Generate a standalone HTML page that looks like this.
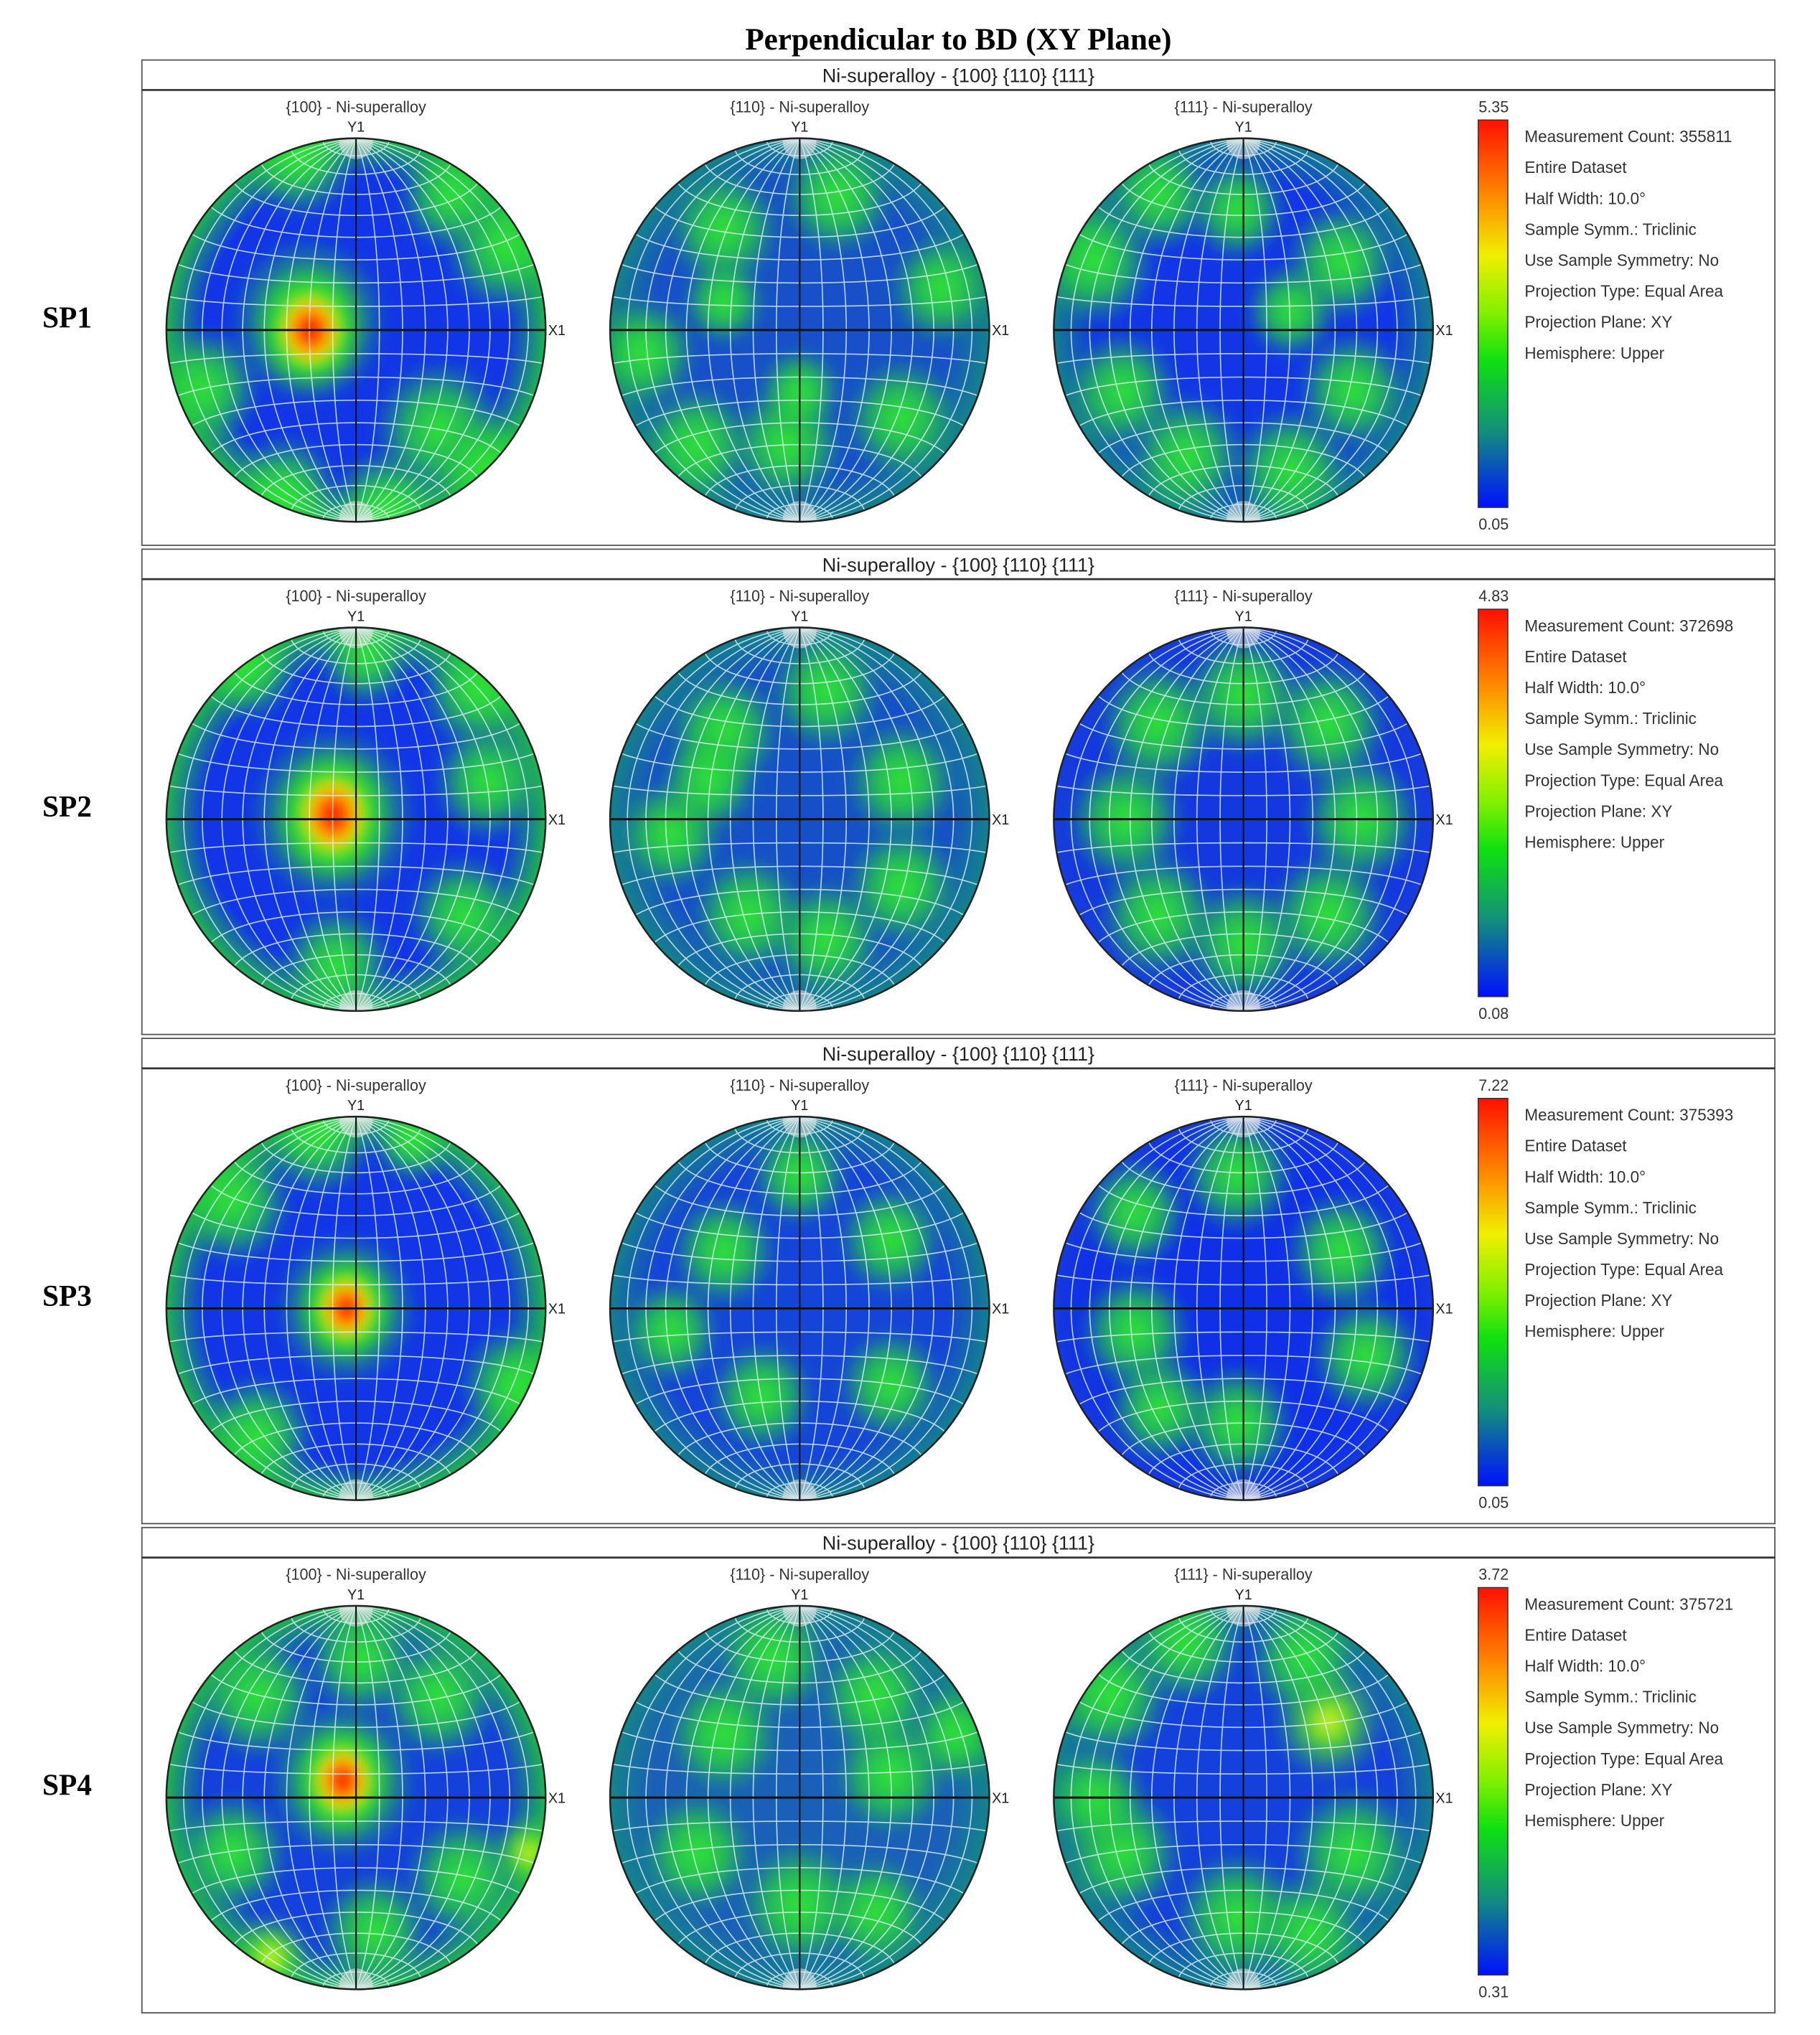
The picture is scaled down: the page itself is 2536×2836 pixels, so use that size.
<!DOCTYPE html>
<html><head><meta charset="utf-8"><style>
html,body{margin:0;padding:0;background:#fff;}
svg{display:block;}
</style></head><body>
<svg id="fig" xmlns="http://www.w3.org/2000/svg" width="2536" height="2836" viewBox="0 0 1411 1560" preserveAspectRatio="none">
<rect x="0" y="0" width="1411" height="1560" fill="#fff"/>
<text x="743" y="38" text-anchor="middle" font-family="Liberation Serif, serif" font-weight="bold" font-size="24">Perpendicular to BD (XY Plane)</text>
<defs id="defs">
<filter id="soft" x="-20%" y="-20%" width="140%" height="140%"><feGaussianBlur stdDeviation="5"/></filter>
<linearGradient id="cbar" x1="0" y1="0" x2="0" y2="1">
<stop offset="0" stop-color="#ff1000"/><stop offset="0.18" stop-color="#ff8000"/><stop offset="0.35" stop-color="#f0f000"/><stop offset="0.5" stop-color="#80f000"/><stop offset="0.62" stop-color="#10e010"/><stop offset="0.8" stop-color="#14907a"/><stop offset="1" stop-color="#0010ff"/>
</linearGradient>
<radialGradient id="gGreen"><stop offset="0" stop-color="#30e830" stop-opacity="1"/><stop offset="0.5" stop-color="#28d838" stop-opacity="0.75"/><stop offset="1" stop-color="#20b050" stop-opacity="0"/></radialGradient>
<radialGradient id="gYel"><stop offset="0" stop-color="#e8f020" stop-opacity="1"/><stop offset="0.35" stop-color="#60e820" stop-opacity="0.9"/><stop offset="1" stop-color="#20c040" stop-opacity="0"/></radialGradient>
<radialGradient id="gHot"><stop offset="0" stop-color="#ff1000"/><stop offset="0.22" stop-color="#ff5000"/><stop offset="0.38" stop-color="#ffd000"/><stop offset="0.55" stop-color="#40e820" stop-opacity="0.95"/><stop offset="1" stop-color="#20c040" stop-opacity="0"/></radialGradient>
<radialGradient id="gRim100"><stop offset="0.8" stop-color="#20c040" stop-opacity="0"/><stop offset="1" stop-color="#20c040" stop-opacity="0.9"/></radialGradient>
<radialGradient id="gRimTeal"><stop offset="0.78" stop-color="#148a80" stop-opacity="0"/><stop offset="1" stop-color="#148a80" stop-opacity="0.85"/></radialGradient>
<radialGradient id="gRimBlue"><stop offset="0.8" stop-color="#1030e0" stop-opacity="0"/><stop offset="1" stop-color="#1a40d8" stop-opacity="0.6"/></radialGradient>
</defs>
<g id="panels"></g>
</svg>
<script>
// Per-panel colour-scale limits
const panelMax = ["5.35","4.83","7.22","3.72"];
const panelMin = ["0.05","0.08","0.05","0.31"];
const panelCounts = ["355811","372698","375393","375721"];
const panelLabels = ["SP1","SP2","SP3","SP4"];
const figNames = ["{100} - Ni-superalloy","{110} - Ni-superalloy","{111} - Ni-superalloy"];
// Intensity blobs: [u, v, radius, kind] with u,v in unit-circle coords; kind: g=green, y=yellowish, h=hot
const blobsSP1_100 = [[-0.25,-0.05,0.42,"g"],[-0.24,0.0,0.3,"h"],[0.44,0.52,0.35,"g"],[0.7,0.73,0.3,"g"],[0.78,-0.43,0.32,"g"],[0.5,-0.7,0.28,"g"],[-0.3,-0.9,0.3,"g"],[-0.8,0.3,0.3,"g"],[-0.38,0.86,0.3,"g"],[0.16,0.93,0.3,"g"]];
const blobsSP1_110 = [[-0.4,-0.53,0.3,"g"],[0.2,-0.7,0.3,"g"],[0.75,-0.22,0.28,"g"],[-0.82,0.12,0.28,"g"],[-0.54,0.6,0.3,"g"],[-0.07,0.6,0.3,"g"],[0.54,0.46,0.3,"g"],[0.0,0.32,0.22,"g"],[-0.4,-0.15,0.22,"g"]];
const blobsSP1_111 = [[-0.78,-0.36,0.32,"g"],[-0.64,0.32,0.3,"g"],[-0.3,0.66,0.32,"g"],[0.25,0.73,0.32,"g"],[0.58,0.32,0.3,"g"],[0.52,-0.36,0.3,"g"],[-0.03,-0.63,0.26,"g"],[-0.44,-0.7,0.28,"g"],[0.25,-0.1,0.24,"g"]];
const blobsSP2_100 = [[-0.12,-0.02,0.45,"g"],[-0.12,-0.02,0.32,"h"],[0.64,-0.67,0.3,"g"],[0.7,-0.2,0.3,"g"],[0.57,0.5,0.3,"g"],[-0.1,0.76,0.3,"g"],[-0.58,-0.8,0.28,"g"],[0.05,-0.85,0.25,"g"]];
const blobsSP2_110 = [[-0.4,-0.46,0.3,"g"],[0.14,-0.67,0.3,"g"],[0.54,-0.2,0.3,"g"],[0.54,0.35,0.3,"g"],[0.14,0.63,0.3,"g"],[-0.27,0.5,0.3,"g"],[-0.68,0.08,0.28,"g"],[-0.48,-0.2,0.26,"g"]];
const blobsSP2_111 = [[0.0,-0.65,0.32,"g"],[0.45,-0.5,0.32,"g"],[0.62,0.0,0.32,"g"],[0.45,0.5,0.32,"g"],[0.0,0.65,0.32,"g"],[-0.45,0.5,0.32,"g"],[-0.62,0.0,0.32,"g"],[-0.45,-0.5,0.32,"g"]];
const blobsSP3_100 = [[-0.05,0.0,0.38,"g"],[-0.05,0.0,0.26,"h"],[0.84,0.4,0.3,"g"],[-0.65,-0.56,0.32,"g"],[-0.52,0.66,0.3,"g"],[-0.2,-0.9,0.3,"g"],[0.3,-0.88,0.22,"g"]];
const blobsSP3_110 = [[-0.4,-0.3,0.28,"g"],[0.48,-0.36,0.28,"g"],[0.48,0.4,0.28,"g"],[-0.2,0.46,0.28,"g"],[0.0,-0.7,0.26,"g"],[-0.68,0.12,0.26,"g"]];
const blobsSP3_111 = [[-0.57,0.12,0.3,"g"],[-0.03,-0.7,0.3,"g"],[0.52,-0.3,0.3,"g"],[0.65,0.25,0.3,"g"],[-0.03,0.6,0.3,"g"],[-0.44,0.52,0.28,"g"],[-0.57,-0.5,0.28,"g"]];
const blobsSP4_100 = [[-0.07,-0.09,0.4,"g"],[-0.07,-0.09,0.27,"h"],[-0.45,0.83,0.22,"y"],[0.91,0.29,0.2,"y"],[-0.52,-0.53,0.32,"g"],[0.44,-0.53,0.32,"g"],[0.57,0.42,0.32,"g"],[-0.65,0.29,0.3,"g"],[0.03,-0.73,0.3,"g"],[0.1,0.7,0.3,"g"]];
const blobsSP4_110 = [[-0.4,-0.33,0.3,"g"],[0.48,-0.12,0.3,"g"],[-0.54,0.29,0.3,"g"],[0.0,0.56,0.32,"g"],[0.4,-0.53,0.3,"g"],[-0.14,-0.73,0.3,"g"],[0.82,-0.33,0.25,"g"],[0.4,0.6,0.28,"g"]];
const blobsSP4_111 = [[-0.7,-0.53,0.32,"g"],[0.45,-0.4,0.3,"y"],[0.58,0.29,0.34,"g"],[-0.03,0.63,0.34,"g"],[-0.64,0.29,0.32,"g"],[-0.3,-0.8,0.3,"g"],[0.32,-0.73,0.3,"g"],[-0.78,0.0,0.28,"g"],[0.35,0.7,0.3,"g"]];
const allBlobs = [[blobsSP1_100,blobsSP1_110,blobsSP1_111],[blobsSP2_100,blobsSP2_110,blobsSP2_111],[blobsSP3_100,blobsSP3_110,blobsSP3_111],[blobsSP4_100,blobsSP4_110,blobsSP4_111]];
const baseColors = [["#1236e6","#1750c8","#1236e6"],["#1236e6","#1650c8","#1438e0"],["#1236e6","#1544d8","#1030e8"],["#1440dc","#1a60b8","#1440dc"]];
const rimKinds = [["gRim100","gRimTeal","gRimTeal"],["gRim100","gRimTeal","gRimBlue"],["gRim100","gRimTeal","gRimBlue"],["gRim100","gRimTeal","gRimTeal"]];
const infoLines = ["Entire Dataset","Half Width: 10.0°","Sample Symm.: Triclinic","Use Sample Symmetry: No","Projection Type: Equal Area","Projection Plane: XY","Hemisphere: Upper"];

const NS="http://www.w3.org/2000/svg";
const root=document.getElementById('panels');
const defs=document.getElementById('defs');
function mk(tag,attrs,parent){const e=document.createElementNS(NS,tag);for(const k in attrs)e.setAttribute(k,attrs[k]);(parent||root).appendChild(e);return e;}
const FS='Liberation Sans, DejaVu Sans, sans-serif';
const R=147, cxs=[276,620,964];
const gradFor={g:"gGreen",y:"gYel",h:"gHot"};

function proj(x,y,z){const s=Math.sqrt(1/(1+z));return [x*s,-y*s];}
function gridPaths(){
  const paths=[];
  for(let a=10;a<180;a+=10){
    const al=a*Math.PI/180;let d="";
    for(let t=0;t<=180;t+=3){const tt=t*Math.PI/180;const x=Math.sin(tt)*Math.cos(al),y=Math.cos(tt),z=Math.sin(tt)*Math.sin(al);const p=proj(x,y,z);d+=(t?"L":"M")+p[0].toFixed(4)+" "+p[1].toFixed(4);}
    paths.push(d);
  }
  for(let b=10;b<180;b+=10){ if(b===90)continue;
    const be=b*Math.PI/180;let d="";
    for(let s=0;s<=180;s+=3){const ss=s*Math.PI/180;const x=Math.sin(be)*Math.cos(ss),y=Math.cos(be),z=Math.sin(be)*Math.sin(ss);const p=proj(x,y,z);d+=(s?"L":"M")+p[0].toFixed(4)+" "+p[1].toFixed(4);}
    paths.push(d);
  }
  return paths;
}
const grid=gridPaths();

for(let p=0;p<4;p++){
  const top=46+p*375;
  const g=mk('g',{});
  
  
  const box=mk('rect',{x:110,y:top,width:1266,height:372,fill:'none',stroke:'#555','stroke-width':1},g);
  
  const hl=mk('line',{x1:110,y1:top+23,x2:1376,y2:top+23,stroke:'#333','stroke-width':1.5},g);
  
  const ht=mk('text',{x:743,y:top+17,'text-anchor':'middle','font-family':FS,'font-size':15,fill:'#222'},g);
  ht.textContent="Ni-superalloy - {100} {110} {111}";
  
  const sl=mk('text',{x:52,y:top+205,'text-anchor':'middle','font-family':'Liberation Serif, serif','font-weight':'bold','font-size':23,fill:'#000'},g);
  sl.textContent=panelLabels[p];
  
  const cy=top+207;
  for(let f=0;f<3;f++){
    const cx=cxs[f];
    const fg=mk('g',{},g);
    
    
    const st=mk('text',{x:cx,y:top+40,'text-anchor':'middle','font-family':FS,'font-size':12,fill:'#333'},fg);
    st.textContent=figNames[f];
    
    const yl=mk('text',{x:cx,y:cy-R-5,'text-anchor':'middle','font-family':FS,'font-size':11,fill:'#222'},fg);
    yl.textContent="Y1";
    const xl=mk('text',{x:cx+R+2,y:cy+4,'font-family':FS,'font-size':11,fill:'#222'},fg);
    xl.textContent="X1";
    const cid='clip'+p+'_'+f;
    const cp=mk('clipPath',{id:cid},defs);mk('circle',{cx:cx,cy:cy,r:R},cp);
    const inner=mk('g',{'clip-path':'url(#'+cid+')'},fg);
    const base=mk('circle',{cx:cx,cy:cy,r:R,fill:baseColors[p][f]},inner);
    
    const rim=mk('circle',{cx:cx,cy:cy,r:R,fill:'url(#'+rimKinds[p][f]+')'},inner);
    
    const bg=mk('g',{filter:'url(#soft)'},inner);
    const blobs=allBlobs[p][f];
    for(const b of blobs){
      const el=mk('ellipse',{cx:cx+b[0]*R,cy:cy+b[1]*R,rx:b[2]*R,ry:b[2]*R*(b[3]==='h'?1.15:1.05),fill:'url(#'+gradFor[b[3]]+')'},bg);
      
      
    }
    const gg=mk('g',{transform:'translate('+cx+' '+cy+') scale('+R+')',fill:'none',stroke:'#dff4f4','stroke-width':0.9/R,opacity:0.8},inner);
    
    for(const d of grid){mk('path',{d:d},gg);}
    mk('circle',{cx:cx,cy:cy-R+3,r:13,fill:'#e8e8e8',opacity:0.55},inner);
    mk('circle',{cx:cx,cy:cy+R-3,r:13,fill:'#e8e8e8',opacity:0.55},inner);
    const ax1=mk('line',{x1:cx-R,y1:cy,x2:cx+R,y2:cy,stroke:'#111','stroke-width':1.6},fg);
    
    const ax2=mk('line',{x1:cx,y1:cy-R,x2:cx,y2:cy+R,stroke:'#111','stroke-width':1.2},fg);
    
    const oc=mk('circle',{cx:cx,cy:cy,r:R,fill:'none',stroke:'#222','stroke-width':1.4},fg);
    
  }
  const cb=mk('rect',{x:1146,y:top+46,width:23,height:297,fill:'url(#cbar)',stroke:'#333','stroke-width':0.8},g);
  
  const tmax=mk('text',{x:1158,y:top+40,'text-anchor':'middle','font-family':FS,'font-size':12,fill:'#333'},g);
  tmax.textContent=panelMax[p];
  const tmin=mk('text',{x:1158,y:top+360,'text-anchor':'middle','font-family':FS,'font-size':12,fill:'#333'},g);
  tmin.textContent=panelMin[p];
  const lines=["Measurement Count: "+panelCounts[p]].concat(infoLines);
  lines.forEach((s,i)=>{
    const t=mk('text',{x:1182,y:top+63+i*23.7,'font-family':FS,'font-size':12.5,fill:'#333'},g);
    t.textContent=s;
    
    
  });
}
</script>
</body></html>
